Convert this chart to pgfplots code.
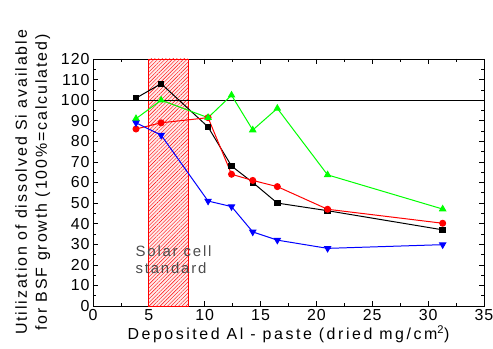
\documentclass[border=0pt]{standalone}
\usepackage{pgfplots}
\pgfplotsset{compat=1.18}
\usepackage{fontspec}
\setmainfont{Liberation Sans}
\newfontfamily\wide[LetterSpace=12]{Liberation Sans}
\newfontfamily\widex[LetterSpace=16]{Liberation Sans}
\newfontfamily\tickf[LetterSpace=6]{Liberation Sans}
\usetikzlibrary{patterns.meta}
\begin{document}
\begin{tikzpicture}
\path[use as bounding box] (0,0) rectangle (493bp,349bp);
\begin{axis}[
  at={(93bp,43bp)}, anchor=south west,
  scale only axis, width=391bp, height=247bp,
  xmin=0, xmax=35, ymin=0, ymax=120,
  xtick={0,5,...,35}, ytick={0,10,...,120},
  minor x tick num=1, minor y tick num=1,
  tick align=inside, tick pos=both,
  major tick length=5bp, minor tick length=3bp,
  axis line style={line width=0.8pt},
  every tick/.style={black, line width=0.6pt},
  /pgf/number format/assume math mode=true,
  tick label style={font=\tickf\fontsize{16}{18}\selectfont},
  xlabel={Deposited Al - paste (dried mg/cm\textsuperscript{2})},
  ylabel={Utilization of dissolved Si available\\for BSF growth (100\%=calculated)},
  xlabel style={font=\widex\fontsize{16}{19}\selectfont, yshift=2bp},
  ylabel style={font=\wide\fontsize{16}{20}\selectfont, align=center, yshift=4bp},
  clip=false,
]
\addplot[draw=red, line width=0.8pt, fill=red!8, postaction={pattern={Lines[angle=45, distance=2.6pt, line width=0.4pt]}, pattern color=red}] coordinates {(5,0) (8.5,0) (8.5,120) (5,120)} -- cycle;
\addplot[black, line width=0.8pt] coordinates {(0,100) (35,100)};
\addplot[black, line width=1pt, mark=square*, mark size=2.7pt] coordinates {
(3.85,101) (6.1,108) (10.3,87) (12.4,68) (14.3,60) (16.5,50) (21.0,46.3) (31.3,37)};
\addplot[red, line width=1pt, mark=*, mark size=3pt] coordinates {
(3.85,86) (6.1,89) (10.3,91.5) (12.4,64) (14.3,61) (16.5,58) (21.0,47) (31.3,40.2)};
\addplot[green, line width=1pt, mark=triangle*, mark size=3.5pt] coordinates {
(3.85,91) (6.1,100) (10.3,91.5) (12.4,102.4) (14.3,85.5) (16.5,96) (21.0,63.7) (31.3,47.1)};
\addplot[blue, line width=1pt, mark=triangle*, mark options={rotate=180}, mark size=3.5pt] coordinates {
(3.85,89) (6.1,83) (10.3,51) (12.4,48.3) (14.3,36) (16.5,32) (21.0,28) (31.3,29.8)};
\node[anchor=north west, align=left, text=black!70, font=\wide\fontsize{15}{17}\selectfont, inner sep=0pt]
  at (axis cs:3.8,29.5) {Solar cell\\standard};
\end{axis}
\end{tikzpicture}
\end{document}
